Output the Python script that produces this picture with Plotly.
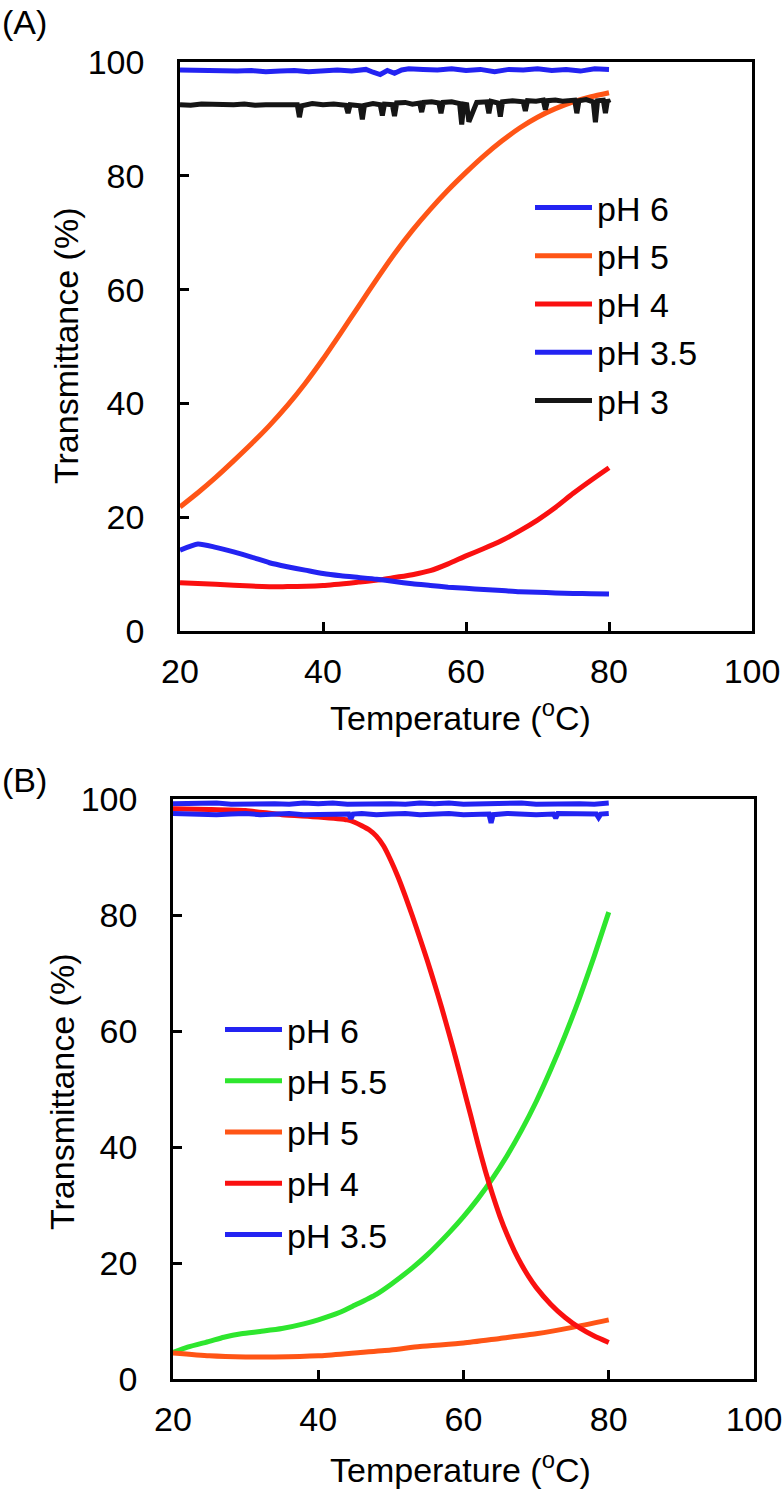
import plotly.graph_objects as go

# Theme settings
FONT = "Arial, Liberation Sans, sans-serif"
BLUE = "#2323f2"
ORANGE = "#ff5516"
RED = "#fa1010"
GREEN = "#2ee62e"
BLACK = "#151515"
W, H = 783, 1492

# ---------------- Panel A data ----------------
a_ph6_temp = [20, 22, 24, 26, 28, 30, 32, 34, 36, 38, 40, 42, 44, 46, 47, 48, 49, 50, 51, 52,
              54, 56, 58, 60, 62, 64, 66, 68, 70, 72, 74, 76, 78, 80]
a_ph6_val = [98.6, 98.5, 98.6, 98.5, 98.4, 98.5, 98.3, 98.4, 98.5, 98.3, 98.4, 98.6, 98.4, 98.7, 98.2,
             97.8, 98.5, 98.0, 98.6, 98.8, 98.7, 98.6, 98.8, 98.5, 98.7, 98.3, 98.7, 98.6, 98.8, 98.5,
             98.7, 98.4, 98.8, 98.7]

a_ph5_temp = [20, 22.5, 25, 27.5, 30, 32.5, 35, 37.5, 40, 42.5, 45, 47.5, 50, 52.5, 55, 57.5, 60,
              62.5, 65, 67.5, 70, 72.5, 75, 77.5, 80]
a_ph5_val = [21.8, 24.3, 27.0, 29.9, 32.9, 36.1, 39.6, 43.5, 47.8, 52.4, 57.1, 61.8, 66.3, 70.4,
             74.1, 77.5, 80.6, 83.5, 86.1, 88.4, 90.3, 91.8, 93.0, 93.9, 94.6]

a_ph4_temp = [20, 25, 30, 35, 40, 45, 48, 50, 52.5, 55, 57.5, 60, 62.5, 65, 67.5, 70, 72.5, 75, 77.5, 80]
a_ph4_val = [8.5, 8.2, 7.9, 7.8, 8.0, 8.6, 9.0, 9.4, 9.9, 10.6, 11.8, 13.2, 14.5, 15.9, 17.6, 19.5,
             21.7, 24.2, 26.5, 28.7]

a_ph35_temp = [20, 22.5, 25, 27.5, 30, 32.5, 35, 37.5, 40, 42.5, 45, 47.5, 50, 52.5, 55, 57.5, 60,
               62.5, 65, 67.5, 70, 72.5, 75, 77.5, 80]
a_ph35_val = [14.2, 15.3, 14.7, 13.9, 13.0, 12.0, 11.3, 10.7, 10.1, 9.7, 9.4, 9.1, 8.7, 8.3, 8.0,
              7.7, 7.5, 7.3, 7.1, 6.9, 6.8, 6.7, 6.6, 6.55, 6.5]

a_ph3_temp = [20, 21.5, 23, 24.5, 26, 27.5, 29, 30.5, 32, 33.5, 35, 36.4, 36.7, 37.0, 38.5, 40, 41.5,
              43.2, 43.5, 43.8, 45.2, 45.5, 45.8, 47, 48.0, 48.3, 48.6, 49.7, 50.0, 50.3, 51.5, 52.5,
              53.5, 53.8, 54.1, 55.2, 56.2, 56.5, 56.8, 58, 59.1, 59.4, 59.7, 60.1, 60.4, 61.5, 62.9,
              63.2, 63.5, 64.5, 64.8, 65.1, 66.5, 68.0, 68.3, 68.6, 69.8, 70.8, 71.1, 71.4, 72.5, 73.5,
              75.2, 75.5, 75.8, 76.8, 77.8, 78.1, 78.4, 79.2, 79.5, 79.8, 80]
a_ph3_val = [92.5, 92.4, 92.6, 92.5, 92.4, 92.5, 92.6, 92.4, 92.5, 92.5, 92.4, 92.5, 90.3, 92.3, 92.7,
             92.5, 92.6, 92.4, 91.0, 92.5, 92.3, 89.9, 92.4, 92.7, 92.5, 90.6, 92.6, 92.5, 90.5, 92.8,
             92.9, 92.6, 92.8, 91.2, 92.9, 93.0, 92.8, 91.0, 92.9, 93.0, 92.7, 89.0, 92.6, 92.5, 89.5,
             92.9, 93.0, 91.0, 93.1, 92.8, 90.4, 93.0, 93.2, 93.0, 91.4, 93.2, 93.1, 93.3, 91.6, 93.2,
             93.3, 93.1, 93.3, 91.0, 93.2, 93.4, 93.0, 89.4, 93.2, 93.3, 91.0, 93.4, 92.8]

# ---------------- Panel B data ----------------
b_ph6_temp = [20, 22, 24, 26, 28, 30, 32, 34, 36, 38, 40, 42, 44, 46, 48, 50, 52, 54, 56, 58, 60,
              62, 64, 66, 68, 70, 72, 74, 76, 78, 80]
b_ph6_val = [99.2, 99.3, 99.2, 99.3, 99.1, 99.2, 99.3, 99.2, 99.1, 99.3, 99.2, 99.3, 99.1, 99.2, 99.3,
             99.2, 99.1, 99.3, 99.2, 99.3, 99.1, 99.2, 99.3, 99.2, 99.3, 99.1, 99.2, 99.3, 99.2, 99.1,
             99.3]

b_ph55_temp = [20, 22, 25, 27, 29.4, 32, 35, 38, 40, 43, 45, 48, 50, 53, 55, 58, 60, 62, 64, 66, 68,
               70, 72, 74, 76, 78, 80]
b_ph55_val = [4.6, 5.5, 6.5, 7.2, 7.8, 8.2, 8.7, 9.5, 10.2, 11.5, 12.7, 14.6, 16.3, 19.2, 21.4, 25.2,
              28.0, 31.1, 34.6, 38.5, 42.9, 47.8, 53.3, 59.3, 65.8, 72.9, 80.5]

b_ph5_temp = [20, 25, 30, 34, 40, 45, 50, 54, 60, 65, 70, 75, 80]
b_ph5_val = [4.5, 4.0, 3.8, 3.8, 4.0, 4.5, 5.0, 5.6, 6.2, 7.0, 7.8, 8.9, 10.2]

b_ph4_temp = [20, 25, 30, 35, 40, 44, 45, 46, 47, 48, 49, 50, 51, 52, 53, 54, 55, 56, 57, 58, 59, 60,
              61, 62, 63, 64, 65, 66, 67, 68, 69, 70, 72, 74, 76, 78, 80]
b_ph4_val = [98.3, 98.2, 98.0, 97.3, 96.9, 96.4, 96.0, 95.4, 94.7, 93.6, 91.9, 89.4, 86.5, 83.2, 79.7,
             76.0, 72.2, 68.2, 64.0, 59.6, 55.0, 50.2, 45.4, 40.5, 35.9, 31.8, 28.1, 24.9, 22.1, 19.7,
             17.6, 15.8, 12.9, 10.6, 8.8, 7.4, 6.3]

b_ph35_temp = [20, 22, 24, 26, 28, 30, 32, 34, 36, 38, 40, 42, 44.2, 44.5, 44.8, 46, 48, 50, 52, 54,
               56, 58, 60, 62, 63.5, 63.8, 64.1, 66, 68, 70, 72.4, 72.7, 73.0, 75, 77, 78.3, 78.6,
               78.9, 80]
b_ph35_val = [97.5, 97.4, 97.5, 97.3, 97.4, 97.5, 97.3, 97.4, 97.5, 97.3, 97.4, 97.5, 97.4, 96.6,
              97.4, 97.5, 97.3, 97.4, 97.5, 97.3, 97.4, 97.5, 97.3, 97.4, 97.4, 95.9, 97.3, 97.5,
              97.4, 97.3, 97.4, 96.7, 97.5, 97.4, 97.3, 97.4, 96.8, 97.4, 97.5]

panel_a = [
    ("pH 6", a_ph6_temp, a_ph6_val, BLUE),
    ("pH 5", a_ph5_temp, a_ph5_val, ORANGE),
    ("pH 4", a_ph4_temp, a_ph4_val, RED),
    ("pH 3.5", a_ph35_temp, a_ph35_val, BLUE),
    ("pH 3", a_ph3_temp, a_ph3_val, BLACK),
]
panel_b = [
    ("pH 6", b_ph6_temp, b_ph6_val, BLUE),
    ("pH 5.5", b_ph55_temp, b_ph55_val, GREEN),
    ("pH 5", b_ph5_temp, b_ph5_val, ORANGE),
    ("pH 4", b_ph4_temp, b_ph4_val, RED),
    ("pH 3.5", b_ph35_temp, b_ph35_val, BLUE),
]

x_ticks = [20, 40, 60, 80, 100]
y_ticks = [0, 20, 40, 60, 80, 100]

fig = go.Figure()

def add_panel(traces, xaxis, yaxis, legend, prefix, noisy):
    for name, t, v, color in traces:
        fig.add_trace(go.Scatter(
            x=t, y=v, mode="lines", name=name,
            xaxis=xaxis, yaxis=yaxis, legend=legend,
            legendgroup=prefix + name,
            line=dict(color=color, width=5,
                      shape="linear" if name in noisy else "spline", smoothing=0.6),
        ))

add_panel(panel_a, "x", "y", "legend", "a", ("pH 6", "pH 3"))
add_panel(panel_b, "x2", "y2", "legend2", "b", ("pH 6", "pH 3.5"))

axis_common = dict(
    showline=True, mirror=True, linecolor="black", linewidth=2.5,
    ticks="inside", ticklen=9, tickwidth=2.5, tickcolor="black",
    showgrid=False, zeroline=False,
    tickfont=dict(family=FONT, size=34, color="black"),
    fixedrange=True, automargin=False, ticklabeloverflow="allow",
)

def px_x(v):
    return v / W

def px_y(v):
    return 1 - v / H

legend_common = dict(xanchor="left", yanchor="top", itemwidth=57,
                     font=dict(family=FONT, size=34, color="black"),
                     bgcolor="rgba(0,0,0,0)", traceorder="grouped")

fig.update_layout(
    xaxis=dict(axis_common, domain=[px_x(180), px_x(752)], range=[20, 100],
               tickvals=x_ticks, anchor="y", ticklabelstandoff=8),
    yaxis=dict(axis_common, domain=[px_y(631), px_y(62)], range=[0, 100],
               tickvals=y_ticks, anchor="x", ticklabelstandoff=26),
    xaxis2=dict(axis_common, domain=[px_x(173), px_x(754)], range=[20, 100],
                tickvals=x_ticks, anchor="y2", ticklabelstandoff=8),
    yaxis2=dict(axis_common, domain=[px_y(1379), px_y(799)], range=[0, 100],
                tickvals=y_ticks, anchor="x2", ticklabelstandoff=26),
    legend=dict(legend_common, x=px_x(530), y=px_y(179), tracegroupgap=1),
    legend2=dict(legend_common, x=px_x(220), y=px_y(1001), tracegroupgap=4),
    width=W, height=H,
    margin=dict(l=0, r=0, t=0, b=0),
    plot_bgcolor="white", paper_bgcolor="white",
    font=dict(family=FONT, size=34, color="black"),
)

# panel labels and axis titles
text_items = [
    ("(A)", 0, 22, 0, "left"),
    ("(B)", 0, 780, 0, "left"),
    ("Transmittance (%)", 66, 346, -90, "center"),
    ("Transmittance (%)", 62, 1092, -90, "center"),
    ("Temperature (<sup>o</sup>C)", 460, 715, 0, "center"),
    ("Temperature (<sup>o</sup>C)", 460, 1467, 0, "center"),
]
for text, xp, yp, ang, anchor in text_items:
    fig.add_annotation(
        text=text, x=px_x(xp), y=px_y(yp), xref="paper", yref="paper",
        xanchor=anchor, yanchor="middle", textangle=ang, showarrow=False,
        font=dict(family=FONT, size=34, color="black"),
    )

fig.write_html("out.html", config={"displayModeBar": False},
               post_script="document.body.style.margin='0px';document.body.style.overflow='hidden';")
